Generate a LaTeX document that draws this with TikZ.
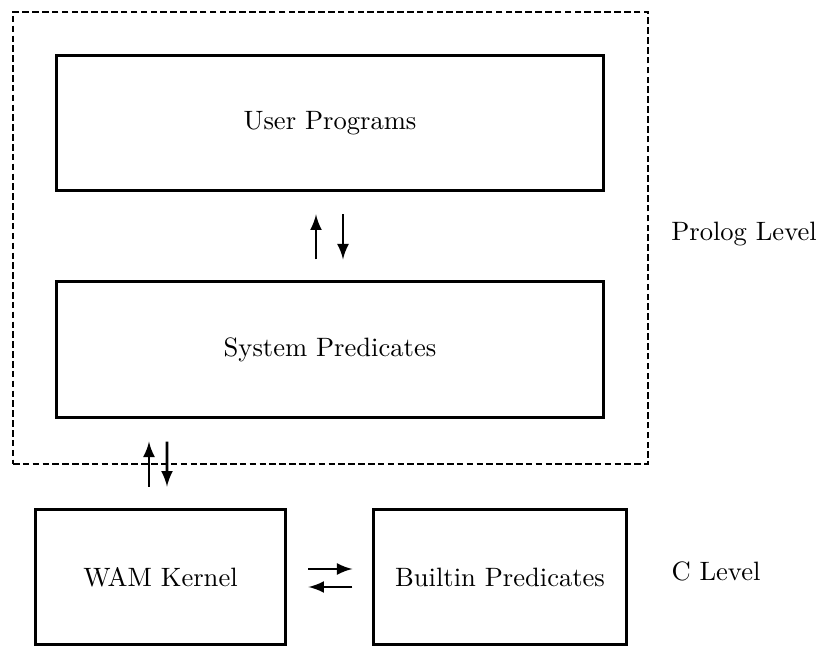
\documentclass[tikz,border=0pt]{standalone}
\usepackage{tikz}
\usetikzlibrary{calc}
\tikzset{
  level box/.style={draw=black, line width=1.1pt, rectangle, inner sep=0pt, font=\fontsize{9.7}{12}\selectfont},
  level frame/.style={draw=black, line width=1pt, dash pattern=on 2.4pt off 1.2pt, rectangle, inner sep=0pt},
  level label/.style={anchor=center, font=\fontsize{9.7}{12}\selectfont},
  call arrow/.style={-latex, line width=0.95pt}
}
\begin{document}
\begin{tikzpicture}[x=0.365pt, y=-0.365pt]
\useasboundingbox (0,0) rectangle (821,646);
% Prolog level
\node (Frame) [level frame, minimum width=231.8pt, minimum height=165pt] at (330.5,238) {};
\node (User) [level box, minimum width=199.3pt, minimum height=49.6pt] at (330,123) {User Programs};
\node (System) [level box, minimum width=199.3pt, minimum height=49.3pt] at (330,349.5) {System Predicates};
\node (PrologLevel) [level label] at (744,234) {Prolog Level};
% C level
\node (Kernel) [level box, minimum width=91.6pt, minimum height=49.6pt] at (160.5,577) {WAM Kernel};
\node (Builtin) [level box, minimum width=92pt, minimum height=49.6pt] at (500,577) {Builtin Predicates};
\node (CLevel) [level label] at (716,571) {C Level};
% calls between the parts
\draw[call arrow] ($(System.north)+(-14,-21)$) -- ($(User.south)+(-14,22)$);
\draw[call arrow] ($(User.south)+(13,22)$) -- ($(System.north)+(13,-21)$);
\draw[call arrow] ($(Kernel.north)+(-11.5,-21)$) -- ($(System.south)+(-181,23)$);
\draw[call arrow] ($(System.south)+(-163,23)$) -- ($(Kernel.north)+(6.5,-21)$);
\draw[call arrow] ($(Kernel.east)+(21,-8)$) -- ($(Builtin.west)+(-20,-8)$);
\draw[call arrow] ($(Builtin.west)+(-20,10)$) -- ($(Kernel.east)+(21,10)$);
\end{tikzpicture}
\end{document}
